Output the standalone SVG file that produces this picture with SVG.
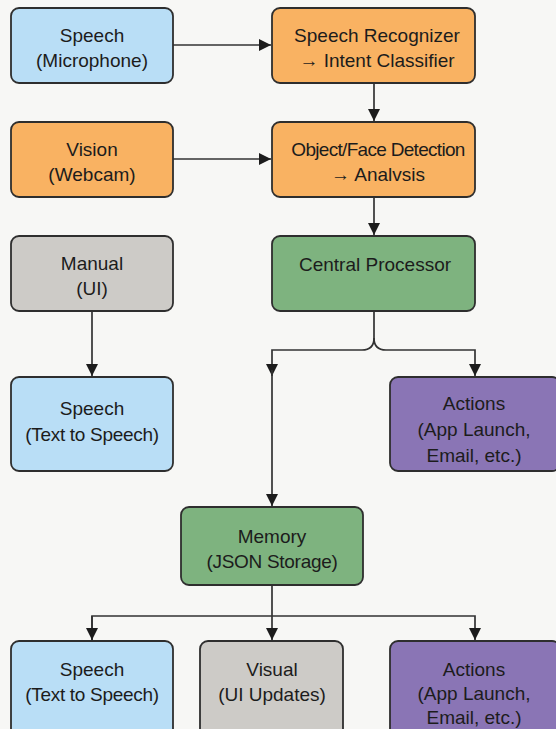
<svg xmlns="http://www.w3.org/2000/svg" width="556" height="729" viewBox="0 0 556 729">
<style>
  .box{stroke:#2e2e2e;stroke-width:1.8}
  .blue{fill:#b9def6}
  .orange{fill:#f9b262}
  .gray{fill:#cdcbc7}
  .green{fill:#7eb37f}
  .purple{fill:#8a75b5}
  text{font-family:"Liberation Sans",Arial,sans-serif;font-size:19px;fill:#1c1c1c;text-anchor:middle}
  .c{fill:none;stroke:#333;stroke-width:1.7}
</style>
<defs>
  <marker id="ah" viewBox="0 0 12 12" refX="12" refY="6" markerWidth="12" markerHeight="12" markerUnits="userSpaceOnUse" orient="auto">
    <path d="M0,0 L12,6 L0,12 z" fill="#1c1c1c"/>
  </marker>
</defs>
<rect width="556" height="729" fill="#f7f7f5"/>
<g id="connectors">
  <line class="c" x1="173" y1="45" x2="271" y2="45" marker-end="url(#ah)"/>
  <line class="c" x1="374" y1="83" x2="374" y2="121" marker-end="url(#ah)"/>
  <line class="c" x1="173" y1="159" x2="271" y2="159" marker-end="url(#ah)"/>
  <line class="c" x1="374" y1="197" x2="374" y2="235" marker-end="url(#ah)"/>
  <line class="c" x1="92" y1="311" x2="92" y2="376" marker-end="url(#ah)"/>
  <path class="c" d="M374,311 V338 Q374,350 362,350 H272 V376" marker-end="url(#ah)"/>
  <path class="c" d="M374,338 Q374,350 386,350 H475 V376" marker-end="url(#ah)"/>
  <line class="c" x1="272" y1="370" x2="272" y2="506" marker-end="url(#ah)"/>
  <line class="c" x1="272" y1="585" x2="272" y2="640" marker-end="url(#ah)"/>
  <path class="c" d="M92,640 V616 H475 V640" marker-end="url(#ah)"/>
  <line class="c" x1="92" y1="616" x2="92" y2="640" marker-end="url(#ah)"/>
</g>
<g id="speech-mic"><rect class="box blue" x="11" y="8" width="162" height="75" rx="8"/><text x="92" y="42">Speech</text><text x="92" y="67">(Microphone)</text></g>
<g id="speech-recognizer"><rect class="box orange" x="272" y="8" width="203" height="75" rx="8"/><text x="377" y="42">Speech Recognizer</text><text x="377" y="67">→ Intent Classifier</text></g>
<g id="vision"><rect class="box orange" x="11" y="122" width="162" height="75" rx="8"/><text x="92" y="156">Vision</text><text x="92" y="181">(Webcam)</text></g>
<g id="object-detection"><rect class="box orange" x="272" y="122" width="203" height="75" rx="8"/><text x="378" y="156" style="letter-spacing:-0.7px">Object/Face Detection</text><text x="378" y="181">→ Analvsis</text></g>
<g id="manual"><rect class="box gray" x="11" y="236" width="162" height="75" rx="8"/><text x="92" y="270">Manual</text><text x="92" y="295">(UI)</text></g>
<g id="central-processor"><rect class="box green" x="272" y="236" width="203" height="75" rx="8"/><text x="375" y="271">Central Processor</text></g>
<g id="speech-tts-1"><rect class="box blue" x="11" y="377" width="162" height="94" rx="8"/><text x="92" y="415">Speech</text><text x="92" y="441" style="letter-spacing:-0.3px">(Text to Speech)</text></g>
<g id="actions-1"><rect class="box purple" x="390" y="377" width="170" height="94" rx="8"/><text x="474" y="410">Actions</text><text x="474" y="436">(App Launch,</text><text x="474" y="462">Email, etc.)</text></g>
<g id="memory"><rect class="box green" x="181" y="507" width="182" height="78" rx="8"/><text x="272" y="543">Memory</text><text x="272" y="568" style="letter-spacing:-0.3px">(JSON Storage)</text></g>
<g id="speech-tts-2"><rect class="box blue" x="11" y="641" width="162" height="96" rx="8"/><text x="92" y="676">Speech</text><text x="92" y="701" style="letter-spacing:-0.3px">(Text to Speech)</text></g>
<g id="visual"><rect class="box gray" x="200" y="641" width="143" height="96" rx="8"/><text x="272" y="676">Visual</text><text x="272" y="701">(UI Updates)</text></g>
<g id="actions-2"><rect class="box purple" x="390" y="641" width="170" height="96" rx="8"/><text x="474" y="676">Actions</text><text x="474" y="700">(App Launch,</text><text x="474" y="724">Email, etc.)</text></g>
</svg>
